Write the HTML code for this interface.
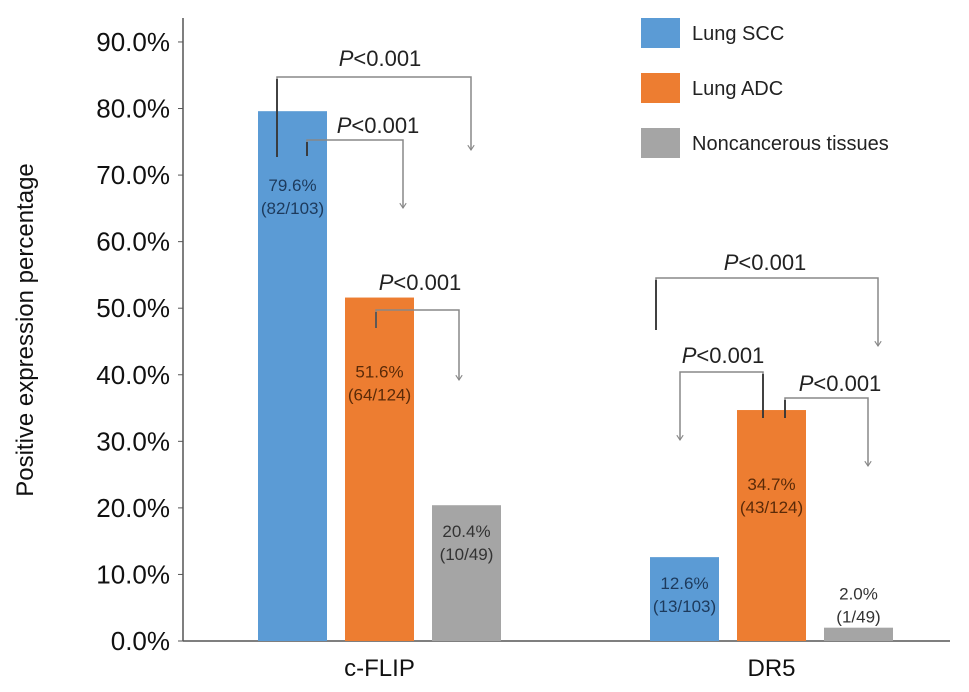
<!DOCTYPE html>
<html><head><meta charset="utf-8"><style>
body{margin:0;background:#fff}
svg{display:block;font-family:"Liberation Sans",Arial,sans-serif}
</style></head><body>
<svg id="chart" width="969" height="692">
<defs><marker id="ah" viewBox="0 0 10 10" refX="9" refY="5" markerWidth="8" markerHeight="8" markerUnits="userSpaceOnUse" orient="auto"><path d="M3,1 L9,5 L3,9" fill="none" stroke="#888" stroke-width="1.4"/></marker></defs>
<g id="axes"></g><g id="bars"></g><g id="ann"></g><g id="legend"></g>
</svg>
<script>
const categories=["c-FLIP","DR5"];
const seriesNames=["Lung SCC","Lung ADC","Noncancerous tissues"];
const sccValues=[79.6,12.6];
const adcValues=[51.6,34.7];
const nonValues=[20.4,2.0];
const sccCounts=["(82/103)","(13/103)"];
const adcCounts=["(64/124)","(43/124)"];
const nonCounts=["(10/49)","(1/49)"];
const yTicks=[0,10,20,30,40,50,60,70,80,90];
const colors=["#5b9bd5","#ed7d31","#a5a5a5"];
const NS="http://www.w3.org/2000/svg";
const y0=641,pxPer=6.656;
function yScale(v){return y0-v*pxPer;}
const groupStart=[258,650],barW=69,step=87;
function xBar(c,s){return groupStart[c]+s*step;}
function el(tag,attrs,parent,text){const e=document.createElementNS(NS,tag);for(const k in attrs)e.setAttribute(k,attrs[k]);if(text!==undefined)e.textContent=text;parent.appendChild(e);return e;}
const axes=document.getElementById('axes');
let a=el('line',{x1:183,y1:18,x2:183,y2:y0,stroke:'#555','stroke-width':1.5},axes);


a=el('line',{x1:183,y1:y0,x2:950,y2:y0,stroke:'#555','stroke-width':1.5},axes);


yTicks.forEach(t=>{
 const y=yScale(t);
 el('line',{x1:178,y1:y,x2:183,y2:y,stroke:'#555'},axes);
 const tx=el('text',{x:170,y:y+9,'text-anchor':'end','font-size':26,fill:'#111'},axes,t.toFixed(1)+'%');
 
 
});
let tt=el('text',{transform:'translate(33,330) rotate(-90)','text-anchor':'middle','font-size':24,fill:'#111'},axes,'Positive expression percentage');


categories.forEach((c,i)=>{
 const t=el('text',{x:xBar(i,1)+barW/2,y:676,'text-anchor':'middle','font-size':24,fill:'#111'},axes,c);
 
 
});
const bars=document.getElementById('bars');
const series=[sccValues,adcValues,nonValues],counts=[sccCounts,adcCounts,nonCounts];
const txtCol=["#1d3a5c","#5a2a08","#333"];
categories.forEach((c,i)=>{
 series.forEach((vals,s)=>{
  const v=vals[i],x=xBar(i,s),y=yScale(v);
  const r=el('rect',{x:x,y:y,width:barW,height:y0-y,fill:colors[s]},bars);
  
  
  let ly=v>25?y+80:(v>8?y+32:y-28);
  const t1=el('text',{x:x+barW/2,y:ly,'text-anchor':'middle','font-size':17,fill:v>8?txtCol[s]:'#333'},bars,v.toFixed(1)+'%');
  
  
  const t2=el('text',{x:x+barW/2,y:ly+23,'text-anchor':'middle','font-size':17,fill:v>8?txtCol[s]:'#333'},bars,counts[s][i]);
  
  
 });
});
const ann=document.getElementById('ann');
const brackets=[[277,157,77,471,150,380,66,'#333'],[307,156,140,403,208,378,133,'#333'],[376,328,310,459,380,420,290,'#555'],[656,330,278,878,346,765,270,'#333'],[763,418,372,680,440,723,363,'#333'],[785,418,398,868,466,840,391,'#333']];
brackets.forEach(b=>{
 const p=el('path',{d:`M${b[0]},${b[1]} V${b[2]} H${b[3]} V${b[4]}`,fill:'none',stroke:'#888','stroke-width':1.5,'marker-end':'url(#ah)'},ann);
 
 
 el('line',{x1:b[0],y1:b[1],x2:b[0],y2:b[2]+2,stroke:b[7],'stroke-width':1.8},ann);
 const t=el('text',{x:b[5],y:b[6],'text-anchor':'middle','font-size':22,fill:'#222'},ann);
 
 
 el('tspan',{'font-style':'italic'},t,'P');
 el('tspan',{},t,'<0.001');
});
const lg=document.getElementById('legend');
seriesNames.forEach((n,i)=>{
 const y=18+i*55;
 const r=el('rect',{x:641,y:y,width:39,height:30,fill:colors[i]},lg);
 
 
 const t=el('text',{x:692,y:y+22,'font-size':20,fill:'#222'},lg,n);
 
 
});
</script>
</body></html>
